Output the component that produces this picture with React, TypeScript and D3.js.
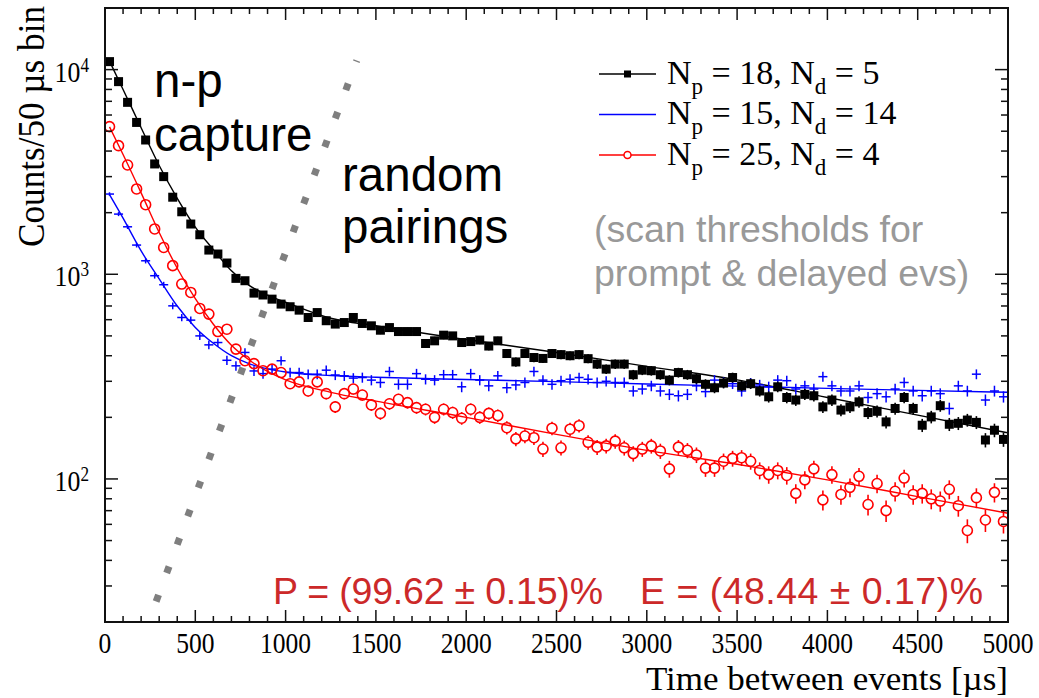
import React from "react";
import * as d3 from "d3";

// ---- data (counts per 50 µs bin, bin centres 25, 75, ... 4975 µs) ----
const binCenters: number[] = d3.range(100).map((i) => 25 + 50 * i);

const seriesBlack: number[] = [
  10940, 8735, 6920, 5520, 4530, 3460, 3000, 2380, 2020, 1760,
  1560, 1313, 1256, 1135, 955, 930, 809, 792, 756, 715,
  694, 668, 615, 650, 593, 571, 581, 615, 575, 560,
  533, 549, 525, 525, 525, 459, 473, 504, 500, 464,
  469, 477, 446, 473, 410, 373, 410, 392, 388, 410,
  405, 400, 405, 387, 364, 344, 364, 364, 323, 340,
  338, 323, 304, 331, 323, 309, 290, 279, 294, 313,
  285, 292, 269, 252, 282, 250, 243, 259, 255, 225,
  243, 217, 225, 238, 211, 214, 190, 221, 250, 221,
  183, 201, 228, 185, 187, 194, 189, 155, 173, 156,
];

const seriesBlue: number[] = [
  2466, 1968, 1706, 1389, 1164, 984, 889, 701, 615, 597,
  500, 452, 464, 380, 357, 415, 337, 327, 344, 378,
  331, 331, 325, 325, 340, 322, 319, 311, 313, 304,
  296, 335, 290, 290, 327, 307, 304, 323, 323, 282,
  327, 304, 285, 319, 279, 288, 296, 335, 304, 290,
  302, 307, 313, 307, 296, 300, 296, 296, 269, 275,
  285, 269, 259, 255, 259, 285, 267, 304, 296, 292,
  269, 294, 288, 282, 304, 302, 275, 285, 275, 316,
  285, 269, 269, 285, 250, 261, 252, 275, 296, 269,
  255, 269, 261, 221, 285, 269, 325, 243, 269, 252,
];

const seriesRed: number[] = [
  5265, 4250, 3420, 2611, 2188, 1665, 1352, 1102, 896, 815,
  681, 639, 525, 539, 431, 378, 366, 338, 344, 331,
  292, 298, 269, 298, 261, 225, 261, 275, 257, 230,
  209, 233, 245, 236, 223, 219, 200, 219, 211, 198,
  219, 200, 209, 204, 178, 157, 162, 159, 140, 177,
  142, 175, 182, 151, 143, 145, 153, 142, 133, 140,
  145, 137, 112, 143, 138, 131, 113, 113, 122, 126,
  127, 122, 110, 105, 110, 104, 85, 99, 112, 79,
  105, 84, 91, 103, 75, 95, 70, 87, 101, 84,
  85, 80, 78, 89, 74, 56, 81, 63, 86, 62,
];

// fit curves, read at knots
const fitT: number[] = [25, 100, 200, 300, 400, 500, 600, 700, 800, 900, 1000, 1250, 1500, 2000, 2500, 3000, 3500, 4000, 4500, 5000];
const fitBlack: number[] = [11000, 8000, 5200, 3400, 2350, 1700, 1320, 1040, 880, 790, 730, 610, 560, 480, 415, 355, 305, 250, 205, 168];
const fitBlue: number[] = [2450, 1880, 1300, 950, 700, 550, 460, 400, 365, 345, 333, 320, 314, 306, 299, 291, 284, 277, 271, 265];
const fitRed: number[] = [5250, 3850, 2500, 1600, 1070, 760, 570, 450, 380, 335, 305, 265, 240, 200, 165, 138, 118, 99, 82, 68];

// dotted guide line (time µs, counts)
const guideT: number[] = [283, 1394];
const guideV: number[] = [25.2, 11070];

const xTicks: number[] = d3.range(0, 5001, 500);
const xMinor: number[] = d3.range(0, 5001, 100);
const yMajor: number[] = [100, 1000, 10000];
const yExp: string[] = ["2", "3", "4"];
const yMinor: number[] = [20, 30, 40, 50, 60, 70, 80, 90, 200, 300, 400, 500, 600, 700, 800, 900, 2000, 3000, 4000, 5000, 6000, 7000, 8000, 9000, 20000];

const legendLabels = [
  { p: "18", d: "5" },
  { p: "15", d: "14" },
  { p: "25", d: "4" },
];

const L = 105, R = 1008, T = 8, B = 622;
const SERIF = "'Liberation Serif', 'Times New Roman', serif";
const SANS = "'Liberation Sans', Arial, sans-serif";
const BLUE = "#0000ff";
const RED = "#ff0000";

export default function App() {
  const x = d3.scaleLinear().domain([0, 5000]).range([L, R]);
  const y = d3.scaleLog().domain([20, 20000]).range([B, T]);

  const fitLine = d3
    .line<number>()
    .x((_, i) => x(fitT[i]))
    .curve(d3.curveMonotoneX);

  const pathFor = (vals: number[]) => fitLine.y((v) => y(v))(vals) || "";

  const guidePath = `M${x(guideT[0])},${y(guideV[0])}L${x(guideT[1])},${y(guideV[1])}`;

  const err = (v: number) => Math.sqrt(v);

  const sLbl = (x0: number, y0: number, sx: number, anchor: string, size: number, content: React.ReactNode, key?: any) => (
    <g key={key} transform={`translate(${x0},${y0}) scale(${sx},1)`}>
      <text textAnchor={anchor as any} fontSize={size} fontFamily={SERIF} fill="#000">
        {content}
      </text>
    </g>
  );

  return (
    <svg width={1039} height={698} style={{ position: "absolute", left: 0, top: 0, background: "#fff" }}>
      <defs>
        <clipPath id="plotclip">
          <rect x={L} y={T} width={R - L} height={B - T} />
        </clipPath>
      </defs>
      <rect x={0} y={0} width={1039} height={698} fill="#fff" />

      {/* guide dotted line */}
      <path d={guidePath} stroke="#7f7f7f" strokeWidth={7} strokeDasharray="7 23.3" fill="none" clipPath="url(#plotclip)" />

      <g clipPath="url(#plotclip)">
        {/* fit lines */}
        <path d={pathFor(fitBlue)} stroke={BLUE} strokeWidth={1.4} fill="none" />
        <path d={pathFor(fitRed)} stroke={RED} strokeWidth={1.4} fill="none" />
        <path d={pathFor(fitBlack)} stroke="#000" strokeWidth={1.4} fill="none" />

        {/* blue: error crosses */}
        {seriesBlue.map((v, i) => {
          const cx = x(binCenters[i]);
          const e = err(v);
          return (
            <g key={"b" + i} stroke={BLUE} strokeWidth={1.5}>
              <line x1={x(binCenters[i] - 25)} x2={x(binCenters[i] + 25)} y1={y(v)} y2={y(v)} />
              <line x1={cx} x2={cx} y1={y(v - e)} y2={y(v + e)} />
            </g>
          );
        })}

        {/* red: open circles with error bars */}
        {seriesRed.map((v, i) => {
          const cx = x(binCenters[i]);
          const cy = y(v);
          const e = err(v);
          const r = 5;
          return (
            <g key={"r" + i} stroke={RED} strokeWidth={1.6} fill="none">
              {y(v - e) - cy > r && <line x1={cx} x2={cx} y1={cy + r} y2={y(v - e)} />}
              {cy - y(v + e) > r && <line x1={cx} x2={cx} y1={cy - r} y2={y(v + e)} />}
              <circle cx={cx} cy={cy} r={r} />
            </g>
          );
        })}

        {/* black: filled squares with error bars */}
        {seriesBlack.map((v, i) => {
          const cx = x(binCenters[i]);
          const cy = y(v);
          const e = err(v);
          return (
            <g key={"k" + i}>
              <line x1={cx} x2={cx} y1={y(v - e)} y2={y(v + e)} stroke="#000" strokeWidth={1.6} />
              <rect x={cx - 4.5} y={cy - 4.5} width={9} height={9} fill="#000" />
            </g>
          );
        })}
      </g>

      {/* frame */}
      <rect x={L} y={T} width={R - L} height={B - T} fill="none" stroke="#111" strokeWidth={2} />

      {/* x ticks */}
      {xMinor.map((t) => {
        const major = t % 500 === 0;
        const len = major ? 12 : 6;
        return (
          <g key={"xt" + t} stroke="#111" strokeWidth={1.5}>
            <line x1={x(t)} x2={x(t)} y1={B} y2={B - len} />
            <line x1={x(t)} x2={x(t)} y1={T} y2={T + len} />
          </g>
        );
      })}
      {xTicks.map((t) => sLbl(x(t), 653, 0.88, "middle", 29, String(t), "xl" + t))}

      {/* y ticks */}
      {yMajor.map((v) => (
        <g key={"ym" + v} stroke="#111" strokeWidth={1.5}>
          <line x1={L} x2={L + 13} y1={y(v)} y2={y(v)} />
          <line x1={R} x2={R - 13} y1={y(v)} y2={y(v)} />
        </g>
      ))}
      {yMinor.map((v) => (
        <g key={"yn" + v} stroke="#111" strokeWidth={1.5}>
          <line x1={L} x2={L + 7} y1={y(v)} y2={y(v)} />
          <line x1={R} x2={R - 7} y1={y(v)} y2={y(v)} />
        </g>
      ))}
      {yMajor.map((v, i) =>
        sLbl(
          89,
          y(v) + 12,
          0.86,
          "end",
          30,
          <>
            10
            <tspan dy={-10} fontSize={20}>
              {yExp[i]}
            </tspan>
          </>,
          "yl" + v
        )
      )}

      {/* axis titles */}
      {sLbl(1008, 690, 1.03, "end", 34, "Time between events [µs]")}
      <g transform={`translate(44,6) rotate(-90) scale(0.95,1)`}>
        <text textAnchor="end" fontSize={37} fontFamily={SERIF} fill="#000">
          Counts/50 µs bin
        </text>
      </g>

      {/* legend */}
      {legendLabels.map((lab, i) => {
        const ly = 74 + i * 40.5;
        const col = i === 0 ? "#000" : i === 1 ? BLUE : RED;
        return (
          <g key={"lg" + i}>
            <line x1={599} x2={656} y1={ly} y2={ly} stroke={col} strokeWidth={1.5} />
            {i === 0 && <rect x={624} y={ly - 3.5} width={7} height={7} fill="#000" />}
            {i === 2 && <circle cx={627.5} cy={ly} r={3.5} fill="#fff" stroke={RED} strokeWidth={1.5} />}
            <text x={667} y={ly + 9.5} fontSize={34} fontFamily={SERIF} fill="#000">
              N
              <tspan fontSize={23} dy={10}>p</tspan>
              <tspan dy={-10}>{` = ${lab.p}, N`}</tspan>
              <tspan fontSize={23} dy={10}>d</tspan>
              <tspan dy={-10}>{` = ${lab.d}`}</tspan>
            </text>
          </g>
        );
      })}

      {/* annotations */}
      <g fontFamily={SANS} fontSize={47.5} fill="#000">
        <text x={154} y={97}>n-p</text>
        <text x={154} y={151}>capture</text>
        <text x={342} y={191}>random</text>
        <text x={342} y={243}>pairings</text>
      </g>
      <g fontFamily={SANS} fontSize={37.5} fill="#999999">
        <text x={594} y={242}>(scan thresholds for</text>
        <text x={594} y={286}>prompt &amp; delayed evs)</text>
      </g>
      <g fontFamily={SANS} fontSize={37.5} fill="#cc2929">
        <text x={273} y={604} textLength={330} lengthAdjust="spacing">P = (99.62 ± 0.15)%</text>
        <text x={640} y={604} textLength={343} lengthAdjust="spacing">E = (48.44 ± 0.17)%</text>
      </g>
    </svg>
  );
}
